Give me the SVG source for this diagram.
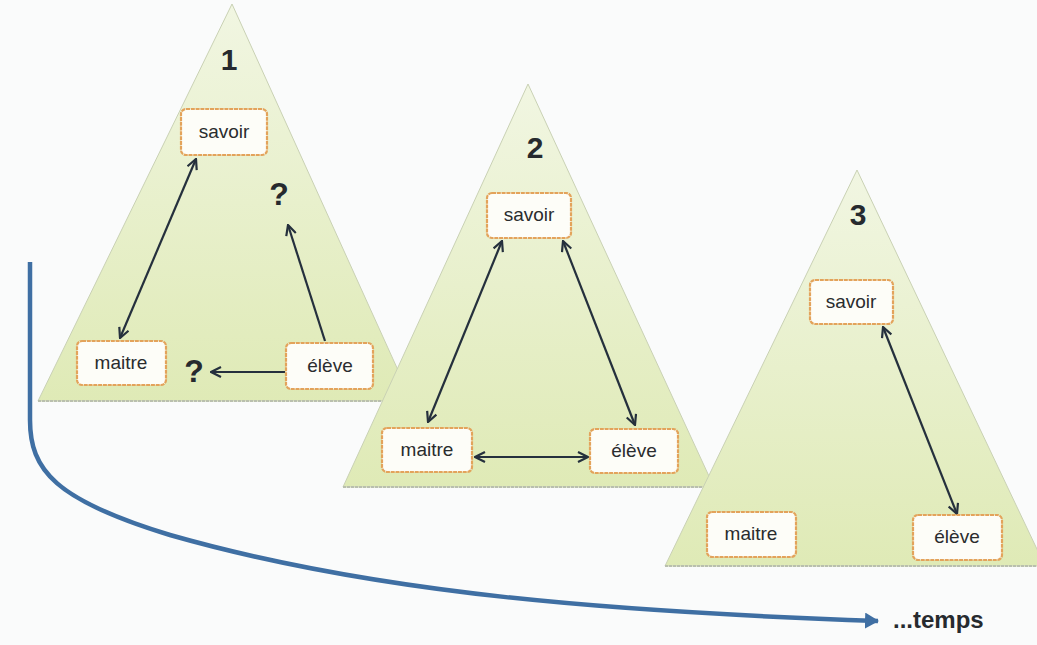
<svg xmlns="http://www.w3.org/2000/svg" width="1037" height="645" viewBox="0 0 1037 645">
  <defs>
    <linearGradient id="tri" x1="0" y1="0" x2="0" y2="1">
      <stop offset="0" stop-color="#f1f6e2"/>
      <stop offset="1" stop-color="#dfeab6"/>
    </linearGradient>
    <marker id="ah" viewBox="0 0 12 12" refX="11" refY="6" markerWidth="12" markerHeight="12" markerUnits="userSpaceOnUse" orient="auto-start-reverse">
      <path d="M1,1 L11,6 L1,11" fill="none" stroke="#25303d" stroke-width="2.2" stroke-linejoin="miter"/>
    </marker>
    <marker id="blue" viewBox="0 0 14 16" refX="13" refY="8" markerWidth="14" markerHeight="16" markerUnits="userSpaceOnUse" orient="auto">
      <path d="M0,0 L14,8 L0,16 Z" fill="#3f6fa3"/>
    </marker>
  </defs>
  <style>
    .tri { fill: url(#tri); stroke: #c9d1b4; stroke-width: 1; }
    .base { stroke: #b9bfae; stroke-width: 2; stroke-dasharray: 3 1; }
    .box { fill: #fdfdf8; stroke: #e3a35b; stroke-width: 2.2; stroke-dasharray: 4 0.8; }
    .lbl { font-family: "Liberation Sans", Arial, sans-serif; font-size: 19px; fill: #2a2c2e; text-anchor: middle; }
    .num { font-family: "Liberation Sans", Arial, sans-serif; font-size: 30px; font-weight: bold; fill: #262a2e; text-anchor: middle; }
    .q { font-family: "Liberation Sans", Arial, sans-serif; font-size: 32px; font-weight: bold; fill: #262a2e; text-anchor: middle; }
    .conn { stroke: #25303d; stroke-width: 2.2; fill: none; }
  </style>
  <rect width="1037" height="645" fill="#fafbfb"/>

  <g id="panels">
    <g id="panel1">
      <polygon class="tri" points="232,4 38,401 412,401"/>
      <line class="base" x1="38" y1="401" x2="412" y2="401"/>
    </g>
    <g id="panel2">
      <polygon class="tri" points="528,84 343,487 714,487"/>
      <line class="base" x1="343" y1="487" x2="714" y2="487"/>
    </g>
    <g id="panel3">
      <polygon class="tri" points="857,170 665,566 1045,566"/>
      <line class="base" x1="665" y1="566" x2="1045" y2="566"/>
    </g>
  </g>

  <g id="labels">
    <text class="num" x="229" y="70">1</text>
    <text class="num" x="535" y="158">2</text>
    <text class="num" x="858" y="225">3</text>
    <text class="q" x="279" y="205">?</text>
    <text class="q" x="194" y="382">?</text>
  </g>

  <g id="connectors">
    <line class="conn" x1="196" y1="159" x2="120" y2="338" marker-start="url(#ah)" marker-end="url(#ah)"/>
    <line class="conn" x1="325" y1="341" x2="288" y2="225" marker-end="url(#ah)"/>
    <line class="conn" x1="285" y1="372" x2="211" y2="372" marker-end="url(#ah)"/>
    <line class="conn" x1="502" y1="241" x2="428" y2="422" marker-start="url(#ah)" marker-end="url(#ah)"/>
    <line class="conn" x1="563" y1="241" x2="635" y2="425" marker-start="url(#ah)" marker-end="url(#ah)"/>
    <line class="conn" x1="475" y1="457" x2="588" y2="457" marker-start="url(#ah)" marker-end="url(#ah)"/>
    <line class="conn" x1="883" y1="327" x2="957" y2="514" marker-start="url(#ah)" marker-end="url(#ah)"/>
    <path id="time-arrow" d="M30,262 V420 C30,470 55,500 170,535 C380,595 620,612 878,621" fill="none" stroke="#3f6fa3" stroke-width="4.5" marker-end="url(#blue)"/>
  </g>

  <g id="n1-savoir"><rect class="box" x="181" y="109" width="86" height="46" rx="5"/><text class="lbl" x="224" y="138">savoir</text></g>
  <g id="n1-maitre"><rect class="box" x="77" y="341" width="89" height="44" rx="5"/><text class="lbl" x="121" y="369">maitre</text></g>
  <g id="n1-eleve"><rect class="box" x="286" y="343" width="87" height="46" rx="5"/><text class="lbl" x="330" y="372">élève</text></g>

  <g id="n2-savoir"><rect class="box" x="487" y="193" width="84" height="45" rx="5"/><text class="lbl" x="529" y="221">savoir</text></g>
  <g id="n2-maitre"><rect class="box" x="382" y="428" width="90" height="44" rx="5"/><text class="lbl" x="427" y="456">maitre</text></g>
  <g id="n2-eleve"><rect class="box" x="590" y="429" width="88" height="44" rx="5"/><text class="lbl" x="634" y="457">élève</text></g>

  <g id="n3-savoir"><rect class="box" x="810" y="280" width="83" height="44" rx="5"/><text class="lbl" x="851" y="308">savoir</text></g>
  <g id="n3-maitre"><rect class="box" x="707" y="512" width="89" height="45" rx="5"/><text class="lbl" x="751" y="540">maitre</text></g>
  <g id="n3-eleve"><rect class="box" x="913" y="515" width="89" height="45" rx="5"/><text class="lbl" x="957" y="543">élève</text></g>

  <text x="893" y="628" font-family="Liberation Sans, Arial, sans-serif" font-size="24" font-weight="bold" fill="#262a2e">...temps</text>
</svg>
